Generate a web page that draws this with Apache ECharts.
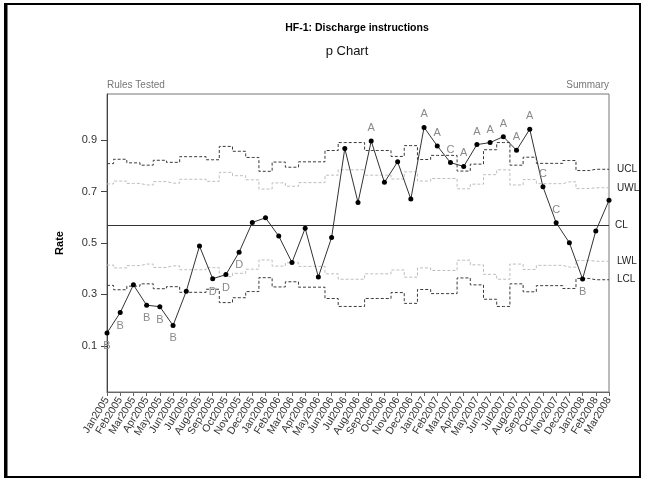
<!DOCTYPE html>
<html>
<head>
<meta charset="utf-8">
<script src="https://cdn.jsdelivr.net/npm/echarts@6/dist/echarts.min.js"></script>
<style>
html, body { margin: 0; padding: 0; background: #fff; }
#chart { width: 647px; height: 483px; }
</style>
</head>
<body>
<div id="chart"></div>
<script>
// Monthly categories
const months = [
  'Jan2005','Feb2005','Mar2005','Apr2005','May2005','Jun2005','Jul2005','Aug2005','Sep2005','Oct2005','Nov2005','Dec2005',
  'Jan2006','Feb2006','Mar2006','Apr2006','May2006','Jun2006','Jul2006','Aug2006','Sep2006','Oct2006','Nov2006','Dec2006',
  'Jan2007','Feb2007','Mar2007','Apr2007','May2007','Jun2007','Jul2007','Aug2007','Sep2007','Oct2007','Nov2007','Dec2007',
  'Jan2008','Feb2008','Mar2008'
];

// Observed proportion per month
const rate = [
  0.150, 0.229, 0.337, 0.258, 0.252, 0.179, 0.312, 0.488, 0.361, 0.377, 0.464, 0.580,
  0.598, 0.527, 0.424, 0.557, 0.368, 0.521, 0.868, 0.658, 0.897, 0.736, 0.816, 0.671,
  0.950, 0.878, 0.813, 0.798, 0.883, 0.891, 0.914, 0.861, 0.943, 0.719, 0.579, 0.501,
  0.360, 0.547, 0.666
];

// Centre line
const centerLine = 0.572;

// Upper control limit (3 sigma)
const ucl = [
  0.809, 0.826, 0.812, 0.803, 0.822, 0.814, 0.836, 0.836, 0.824, 0.876, 0.857, 0.833,
  0.779, 0.815, 0.795, 0.816, 0.816, 0.860, 0.891, 0.891, 0.860, 0.860, 0.837, 0.879,
  0.825, 0.841, 0.841, 0.780, 0.807, 0.863, 0.891, 0.803, 0.834, 0.810, 0.810, 0.821,
  0.782, 0.787, 0.787
];

// Upper warning limit (2 sigma)
const uwl = [
  0.730, 0.741, 0.732, 0.726, 0.739, 0.733, 0.748, 0.748, 0.740, 0.775, 0.762, 0.746,
  0.710, 0.734, 0.721, 0.735, 0.735, 0.764, 0.785, 0.785, 0.764, 0.764, 0.749, 0.777,
  0.741, 0.751, 0.751, 0.711, 0.729, 0.766, 0.785, 0.726, 0.747, 0.731, 0.731, 0.738,
  0.712, 0.715, 0.715
];

// Lower warning limit (2 sigma)
const lwl = [
  0.414, 0.403, 0.412, 0.418, 0.405, 0.411, 0.396, 0.396, 0.404, 0.369, 0.382, 0.398,
  0.434, 0.410, 0.423, 0.409, 0.409, 0.380, 0.359, 0.359, 0.380, 0.380, 0.395, 0.367,
  0.403, 0.393, 0.393, 0.433, 0.415, 0.378, 0.359, 0.418, 0.397, 0.413, 0.413, 0.406,
  0.432, 0.429, 0.429
];

// Lower control limit (3 sigma)
const lcl = [
  0.335, 0.318, 0.332, 0.341, 0.322, 0.330, 0.308, 0.308, 0.320, 0.268, 0.287, 0.311,
  0.365, 0.329, 0.349, 0.328, 0.328, 0.284, 0.253, 0.253, 0.284, 0.284, 0.307, 0.265,
  0.319, 0.303, 0.303, 0.364, 0.337, 0.281, 0.253, 0.341, 0.310, 0.334, 0.334, 0.323,
  0.362, 0.357, 0.357
];

// Special-cause rule flags raised at each month
const ruleFlags = [
  'B','B','','B','B','B','','','D','D','D','',
  '','','','','','','','','A','','','',
  'A','A','C','A','A','A','A','A','A','C','C','',
  'B','',''
];

const yTickValues = [0.1, 0.3, 0.5, 0.7, 0.9];

const FONT = '"Liberation Sans", Arial, sans-serif';

// Flags for rules A and C sit above the point, B and D below it
const rateData = rate.map(function (v, i) {
  const f = ruleFlags[i];
  if (!f) return v;
  const above = (f === 'A' || f === 'C');
  return {
    value: v,
    label: {
      show: true,
      formatter: f,
      position: above ? 'top' : 'bottom',
      distance: 5,
      color: '#8a8a8a',
      fontSize: 11,
      fontFamily: FONT
    }
  };
});

function limitSeries(name, values, color) {
  return {
    name: name,
    type: 'line',
    step: 'middle',
    data: values,
    symbol: 'none',
    silent: true,
    z: 1,
    lineStyle: { color: color, width: 1, type: [3, 2] },
    endLabel: {
      show: true,
      formatter: name,
      distance: 8,
      color: '#222',
      fontSize: 10,
      fontFamily: FONT
    }
  };
}

const chart = echarts.init(document.getElementById('chart'), null, { renderer: 'canvas' });

chart.setOption({
  animation: false,
  backgroundColor: '#fff',
  grid: {
    left: 107, right: 38, top: 94, bottom: 91,
    show: true, borderColor: '#777', borderWidth: 1, backgroundColor: 'transparent'
  },
  xAxis: {
    type: 'category',
    data: months,
    boundaryGap: false,
    axisLine: { onZero: false, lineStyle: { color: '#666', width: 1 } },
    axisTick: { show: true, interval: 0, length: 4, lineStyle: { color: '#666' } },
    axisLabel: {
      interval: 0,
      rotate: 58,
      margin: 6,
      color: '#333',
      fontSize: 10.5,
      fontFamily: FONT
    },
    splitLine: { show: false }
  },
  yAxis: {
    type: 'value',
    min: -0.08,
    max: 1.08,
    name: 'Rate',
    nameLocation: 'middle',
    nameGap: 42,
    nameTextStyle: { fontWeight: 'bold', fontSize: 11, color: '#000', fontFamily: FONT },
    axisLine: { show: true, lineStyle: { color: '#444', width: 1 } },
    axisTick: { show: true, length: 6, customValues: yTickValues, lineStyle: { color: '#444' } },
    axisLabel: {
      customValues: yTickValues,
      margin: 10,
      color: '#333',
      fontSize: 11,
      fontFamily: FONT,
      formatter: function (v) { return v.toFixed(1); }
    },
    splitLine: { show: false }
  },
  series: [
    limitSeries('UCL', ucl, '#3a3a3a'),
    limitSeries('UWL', uwl, '#bdbdbd'),
    limitSeries('LWL', lwl, '#bdbdbd'),
    limitSeries('LCL', lcl, '#3a3a3a'),
    {
      name: 'Rate',
      type: 'line',
      data: rateData,
      z: 5,
      symbol: 'circle',
      symbolSize: 5,
      itemStyle: { color: '#000' },
      lineStyle: { color: '#333', width: 1 },
      markLine: {
        silent: true,
        symbol: 'none',
        lineStyle: { color: '#333', width: 1, type: 'solid' },
        label: {
          show: true,
          position: 'end',
          formatter: 'CL',
          distance: 6,
          color: '#222',
          fontSize: 10,
          fontFamily: FONT
        },
        data: [{ yAxis: centerLine }]
      }
    }
  ],
  graphic: [
    {
      type: 'rect',
      silent: true,
      shape: { x: 5, y: 4, width: 635, height: 473 },
      style: { fill: 'none', stroke: '#000', lineWidth: 2 }
    },
    {
      type: 'line',
      silent: true,
      shape: { x1: 6, y1: 4, x2: 6, y2: 477 },
      style: { stroke: '#000', lineWidth: 3 }
    },
    {
      type: 'text',
      x: 357, y: 28,
      style: {
        text: 'HF-1: Discharge instructions',
        textAlign: 'center', textVerticalAlign: 'middle',
        font: 'bold 10.5px ' + FONT, fill: '#000'
      }
    },
    {
      type: 'text',
      x: 347, y: 51,
      style: {
        text: 'p Chart',
        textAlign: 'center', textVerticalAlign: 'middle',
        font: '13px ' + FONT, fill: '#111'
      }
    },
    {
      type: 'text',
      x: 107, y: 85,
      style: {
        text: 'Rules Tested',
        textAlign: 'left', textVerticalAlign: 'middle',
        font: '10px ' + FONT, fill: '#777'
      }
    },
    {
      type: 'text',
      x: 609, y: 85,
      style: {
        text: 'Summary',
        textAlign: 'right', textVerticalAlign: 'middle',
        font: '10px ' + FONT, fill: '#777'
      }
    }
  ]
});
</script>
</body>
</html>
